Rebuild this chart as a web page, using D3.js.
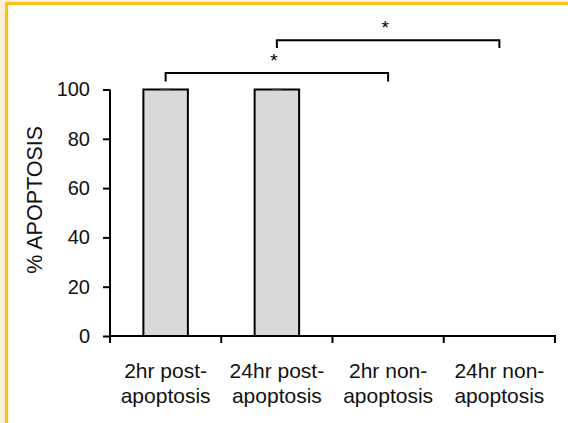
<!DOCTYPE html>
<html>
<head>
<meta charset="utf-8">
<script src="https://cdn.jsdelivr.net/npm/d3@7"></script>
<style>
  html, body { margin: 0; padding: 0; background: #fff; }
  svg { display: block; font-family: "Liberation Sans", Arial, sans-serif; }
</style>
</head>
<body>
<svg id="chart" width="568" height="423"></svg>
<script>
// data
const categories = [
  ["2hr post-", "apoptosis"],
  ["24hr post-", "apoptosis"],
  ["2hr non-", "apoptosis"],
  ["24hr non-", "apoptosis"]
];
const values = [100, 100, 0, 0];
const errors = [0, 0, 0, 0];
const yTicks = [0, 20, 40, 60, 80, 100];
// significance brackets: from category, to category, bar level, leg level
const brackets = [
  { from: 0, to: 2, level: 106.7, leg: 103.2, label: "*" },
  { from: 1, to: 3, level: 120, leg: 116.8, label: "*" }
];

const svg = d3.select("#chart");

/* frame: cream strip and gold lines on top and left */
svg.append("rect").attr("x", 0).attr("y", 0).attr("width", 568).attr("height", 423).attr("fill", "#fff");
svg.append("rect").attr("x", 0).attr("y", 0).attr("width", 5).attr("height", 423).attr("fill", "#fdefd4");
svg.append("rect").attr("x", 0).attr("y", 0).attr("width", 568).attr("height", 2).attr("fill", "#fdefd4");
svg.append("rect").attr("x", 5).attr("y", 2).attr("width", 3).attr("height", 421).attr("fill", "#f5c11f");
svg.append("rect").attr("x", 5).attr("y", 2).attr("width", 563).attr("height", 3).attr("fill", "#f5c11f");
svg.append("rect").attr("x", 8).attr("y", 5).attr("width", 1).attr("height", 418).attr("fill", "#fdf3dd");

const left = 110, right = 555, top0 = 89.5, bottom = 336;

const x = d3.scaleBand()
  .domain(d3.range(categories.length))
  .range([left, right])
  .paddingInner(0)
  .paddingOuter(0);

const y = d3.scaleLinear()
  .domain([0, 100])
  .range([bottom, top0]);

const barW = x.bandwidth() * 0.4;

/* bars */
const g = svg.append("g");
g.selectAll(".bar")
  .data(values)
  .enter()
  .append("rect")
    .attr("class", "bar")
    .attr("x", (d, i) => x(i) + x.bandwidth() / 2 - barW / 2)
    .attr("y", d => y(d))
    .attr("width", barW)
    .attr("height", d => bottom - y(d))
    .attr("fill", "#d9d9d9")
    .attr("stroke", d => d > 0 ? "#000" : "none")
    .attr("stroke-width", 2);

/* tiny error caps */
g.selectAll(".cap")
  .data(values)
  .enter()
  .append("line")
    .attr("class", "cap")
    .attr("x1", (d, i) => x(i) + x.bandwidth() / 2 - 5)
    .attr("x2", (d, i) => x(i) + x.bandwidth() / 2 + 5)
    .attr("y1", (d, i) => y(d + errors[i]) - 0.5)
    .attr("y2", (d, i) => y(d + errors[i]) - 0.5)
    .attr("stroke", "#666")
    .attr("stroke-width", 1);

/* y axis */
const yAxis = svg.append("g")
  .attr("transform", `translate(${left},0)`)
  .call(d3.axisLeft(y).tickValues(yTicks).tickSize(7).tickPadding(13).tickSizeOuter(0));
yAxis.select(".domain").attr("stroke", "#000").attr("stroke-width", 2)
  .attr("d", `M0,${top0}V${bottom + 1}`);
yAxis.selectAll(".tick line").attr("stroke", "#000").attr("stroke-width", 2);
yAxis.selectAll(".tick text")
  .attr("font-size", "20px")
  .attr("fill", "#111")
  .attr("font-family", "Liberation Sans, Arial, sans-serif");

/* x axis: ticks between categories */
const xAxisG = svg.append("g").attr("transform", `translate(0,${bottom})`);
xAxisG.append("line")
  .attr("x1", left - 1).attr("x2", right + 1)
  .attr("y1", 0).attr("y2", 0)
  .attr("stroke", "#000").attr("stroke-width", 2);
const edges = d3.range(categories.length + 1).map(i => i < categories.length ? x(i) : right);
xAxisG.selectAll(".xtick")
  .data(edges)
  .enter()
  .append("line")
    .attr("class", "xtick")
    .attr("x1", d => d).attr("x2", d => d)
    .attr("y1", 0).attr("y2", 7)
    .attr("stroke", "#000").attr("stroke-width", 2);

const xLabels = svg.append("g").selectAll(".xlabel")
  .data(categories)
  .enter()
  .append("text")
    .attr("class", "xlabel")
    .attr("text-anchor", "middle")
    .attr("font-size", "21px")
    .attr("fill", "#111");
xLabels.append("tspan")
  .attr("x", (d, i) => x(i) + x.bandwidth() / 2)
  .attr("y", 378)
  .text(d => d[0]);
xLabels.append("tspan")
  .attr("x", (d, i) => x(i) + x.bandwidth() / 2)
  .attr("y", 403)
  .text(d => d[1]);

/* y axis title */
svg.append("text")
  .attr("transform", `translate(42,${(top0 + bottom) / 2 - 13}) rotate(-90)`)
  .attr("text-anchor", "middle")
  .attr("font-size", "21.5px")
  .attr("fill", "#111")
  .text("% APOPTOSIS");

/* significance brackets */
const cx = i => x(i) + x.bandwidth() / 2;
const br = svg.append("g").selectAll(".bracket")
  .data(brackets)
  .enter()
  .append("g")
    .attr("class", "bracket");
br.append("path")
  .attr("d", d => `M${cx(d.from)},${y(d.leg)}V${y(d.level)}H${cx(d.to)}V${y(d.leg)}`)
  .attr("fill", "none")
  .attr("stroke", "#000")
  .attr("stroke-width", 2);
br.append("text")
  .attr("x", d => (cx(d.from) + cx(d.to)) / 2 - 3)
  .attr("y", d => y(d.level) - 6)
  .attr("text-anchor", "middle")
  .attr("font-size", "19px")
  .attr("fill", "#000")
  .text(d => d.label);
</script>
</body>
</html>
